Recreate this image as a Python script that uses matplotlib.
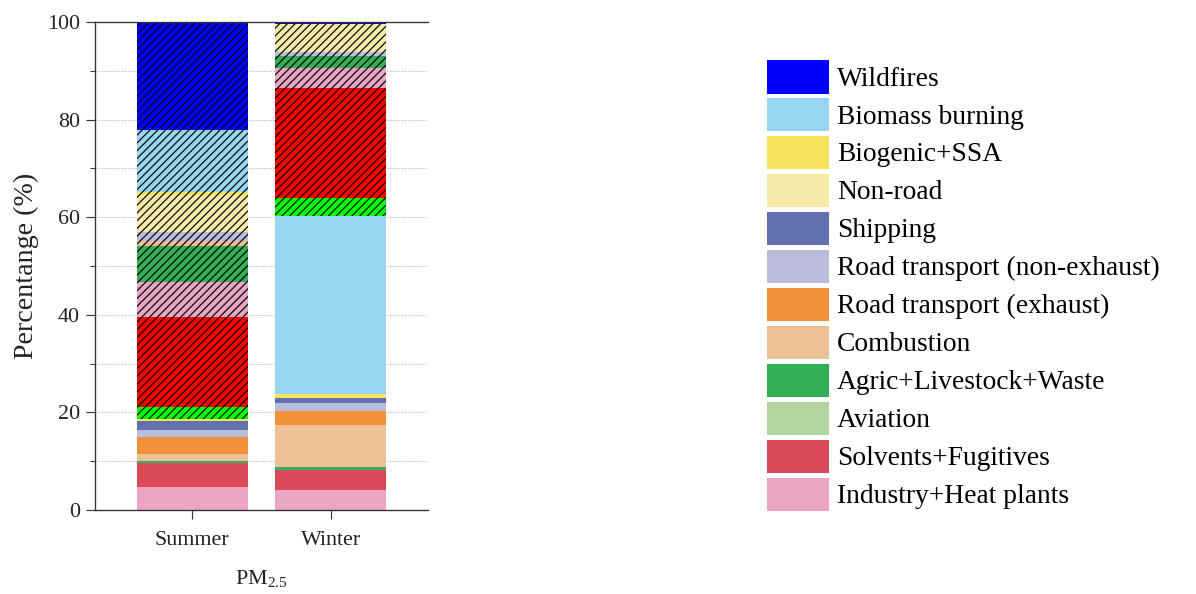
import matplotlib
matplotlib.use("Agg")
import matplotlib.pyplot as plt
from matplotlib.patches import Patch
import numpy as np

DPI = 70
def px(v):
    return v * 72.0 / DPI

plt.rcParams['font.family'] = ['Liberation Serif', 'DejaVu Serif']
plt.rcParams['mathtext.fontset'] = 'custom'
plt.rcParams['mathtext.rm'] = 'Liberation Serif'
plt.rcParams['hatch.linewidth'] = 1.2

categories = ['Summer', 'Winter']

sources = ['Industry+Heat plants', 'Solvents+Fugitives', 'Aviation',
           'Agric+Livestock+Waste', 'Combustion', 'Road transport (exhaust)',
           'Road transport (non-exhaust)', 'Shipping', 'Non-road',
           'Biogenic+SSA', 'Biomass burning', 'Wildfires']
colors = ['#E9A5C2', '#DC4A5A', '#B3D59D', '#33AF55', '#ECC196', '#F0913A',
          '#BABCDA', '#6370B0', '#F5E9A8', '#F8E45A', '#98D5F0', '#0000FF']

# unhatched contributions (%), [Summer, Winter]
industry = [4.8, 4.2]
solvents = [4.8, 4.0]
aviation = [0.0, 0.0]
agric = [0.5, 0.55]
combustion = [1.3, 8.6]
road_exhaust = [3.6, 2.9]
road_nonexhaust = [1.4, 1.6]
shipping = [1.9, 1.0]
nonroad = [0.0, 0.0]
biogenic = [0.3, 1.0]
biomass = [0.0, 36.3]
wildfires = [0.0, 0.0]

# hatched contributions (%), [Summer, Winter]
h_green = [2.6, 3.7]
h_red = [18.3, 22.6]
h_industry = [7.3, 4.1]
h_solvents = [0.0, 0.0]
h_aviation = [0.0, 0.0]
h_agric = [7.4, 2.5]
h_combustion = [1.0, 0.0]
h_road_exhaust = [0.0, 0.0]
h_road_nonexhaust = [1.8, 0.8]
h_shipping = [0.0, 0.0]
h_nonroad = [7.5, 5.7]
h_biogenic = [0.7, 0.0]
h_biomass = [12.7, 0.0]
h_wildfires = [22.1, 0.45]

plain = [industry, solvents, aviation, agric, combustion, road_exhaust,
         road_nonexhaust, shipping, nonroad, biogenic, biomass, wildfires]
hatched = [h_industry, h_solvents, h_aviation, h_agric, h_combustion,
           h_road_exhaust, h_road_nonexhaust, h_shipping, h_nonroad,
           h_biogenic, h_biomass, h_wildfires]

fig = plt.figure(figsize=(1196 / DPI, 594 / DPI), dpi=DPI)
ax = fig.add_axes([95 / 1196, 1 - 510 / 594, (428 - 95) / 1196, (510 - 22) / 594])

x = np.arange(len(categories))
width = 0.806
bottom = np.zeros(len(categories))

for vals, c in zip(plain, colors):
    v = np.array(vals)
    ax.bar(x, v, width, bottom=bottom, color=c, linewidth=0, zorder=2)
    bottom += v

HATCH = '///'
ax.bar(x, h_green, width, bottom=bottom, color='#00FF00', edgecolor='black',
       linewidth=0, hatch=HATCH, zorder=2)
bottom += np.array(h_green)
ax.bar(x, h_red, width, bottom=bottom, color='#FF0000', edgecolor='black',
       linewidth=0, hatch=HATCH, zorder=2)
bottom += np.array(h_red)
for vals, c in zip(hatched, colors):
    v = np.array(vals)
    ax.bar(x, v, width, bottom=bottom, color=c, edgecolor='black',
           linewidth=0, hatch=HATCH, zorder=2)
    bottom += v

ax.set_xlim(-0.704, 1.704)
ax.set_ylim(0, 100)
ax.set_yticks(np.arange(0, 101, 20))
ax.set_yticks(np.arange(10, 100, 20), minor=True)
ax.set_xticks(x)
ax.set_xticklabels(categories)
ax.tick_params(axis='both', which='major', direction='out', length=px(9),
               width=1.2, labelsize=px(22), colors='#333333', labelcolor='#222222')
ax.tick_params(axis='y', which='minor', direction='out', length=px(5), width=1.0,
               colors='#333333')
ax.tick_params(axis='x', pad=px(12))
ax.tick_params(axis='y', pad=px(6))

for yv in range(10, 100, 10):
    ax.axhline(yv, color='#BBBBBB', linestyle=(0, (1.5, 1.5)), linewidth=1.0, zorder=1)

for s in ax.spines.values():
    s.set_linewidth(1.4)
    s.set_color('#333333')
ax.spines['right'].set_visible(False)

ax.set_ylabel('Percentange (%)', fontsize=px(28), color='#222222', labelpad=px(8))
ax.set_xlabel('PM$_{2.5}$', fontsize=px(22), color='#222222', labelpad=px(18))

handles = [Patch(facecolor=c, edgecolor='white', linewidth=1.0, label=l)
           for l, c in zip(sources[::-1], colors[::-1])]
fs = 27.5
fig.legend(handles=handles, loc='upper left',
           bbox_to_anchor=(766 / 1196, 1 - 59.5 / 594),
           frameon=False, fontsize=px(fs), borderpad=0, borderaxespad=0,
           handlelength=63 / fs, handleheight=42 / fs, labelspacing=3.9 / fs,
           handletextpad=8 / fs)

fig.savefig('out.png', dpi=DPI)
